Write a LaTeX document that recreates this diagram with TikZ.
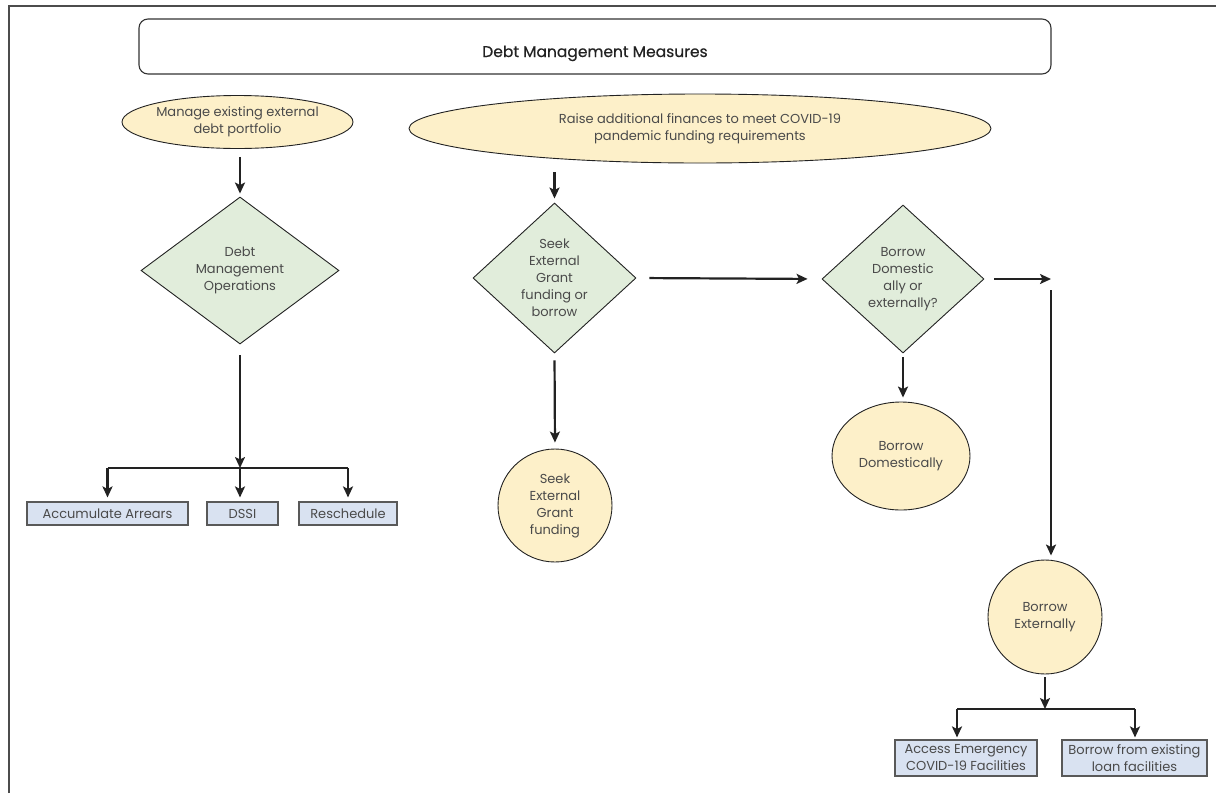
\documentclass[tikz,border=0pt]{standalone}
\usepackage{fontspec}
\setmainfont{Poppins}
\newfontfamily\titlefont[FakeBold=0.5]{Poppins}
\usetikzlibrary{shapes.geometric,arrows.meta}
\definecolor{ylw}{HTML}{FDF0C9}
\definecolor{grn}{HTML}{E1EDDB}
\definecolor{blu}{HTML}{D9E2F1}
\definecolor{ink}{HTML}{222222}
\definecolor{txt}{HTML}{4A4A4A}
\tikzset{
  base/.style={text=txt, font=\fontsize{13}{17}\selectfont, align=center},
  oval/.style={base, ellipse, draw=ink, line width=0.9pt, fill=ylw, inner sep=0pt},
  dia/.style={base, diamond, draw=ink, line width=0.9pt, fill=grn, inner sep=-20pt},
  rbox/.style={base, rectangle, draw=black!65, line width=1.1pt, fill=blu, inner sep=0pt},
  arr/.style={draw=ink, line width=2.2pt, -{Stealth[length=11pt,width=10pt,inset=2.5pt]}},
  ln/.style={draw=ink, line width=2.2pt}
}
\begin{document}
\begin{tikzpicture}[x=1pt,y=-1pt]
\useasboundingbox (0,0) rectangle (1216,793);
\draw[black!70, line width=1.4pt] (9,793) -- (9,6) -- (1216,6);

\node[draw=black!80, line width=1.1pt, rounded corners=9pt, minimum width=912pt, minimum height=55pt, inner sep=0pt, text height=21pt, text depth=0pt, text=ink, font=\titlefont\fontsize{15.5}{18}\selectfont] (title) at (595,46.5) {Debt Management Measures};

\node[oval, minimum width=231pt, minimum height=53pt] (e1) at (237.5,122) {Manage existing external\\debt portfolio};
\node[oval, minimum width=582pt, minimum height=69pt] (e2) at (700,128.5) {Raise additional finances to meet COVID-19\\pandemic funding requirements};

\node[dia, minimum width=198pt, minimum height=147pt] (d1) at (240,270.5) {Debt\\Management\\Operations};
\node[dia, minimum width=163pt, minimum height=150pt] (d2) at (554.5,278) {Seek\\External\\Grant\\funding or\\borrow};
\node[dia, minimum width=162pt, minimum height=148pt] (d3) at (903,279) {Borrow\\Domestic\\ally or\\externally?};

\node[oval, minimum width=114pt, minimum height=113pt] (c1) at (555,505.5) {Seek\\External\\Grant\\funding};
\node[oval, minimum width=138pt, minimum height=108pt] (c2) at (901,456) {Borrow\\Domestically};
\node[oval, minimum width=114pt, minimum height=114pt] (c3) at (1045,617) {Borrow\\Externally};

\node[rbox, minimum width=161pt, minimum height=23pt] (b1) at (107.5,513.5) {Accumulate Arrears};
\node[rbox, minimum width=71pt, minimum height=23pt] (b2) at (242.5,513.5) {DSSI};
\node[rbox, minimum width=98pt, minimum height=23pt] (b3) at (348,513.5) {Reschedule};
\node[rbox, minimum width=142pt, minimum height=36pt] (b4) at (966,758) {Access Emergency\\COVID-19 Facilities};
\node[rbox, minimum width=145pt, minimum height=36pt] (b5) at (1134.5,758) {Borrow from existing\\loan facilities};

% left branch
\draw[arr, shorten <=8pt, shorten >=3pt] (e1.south -| d1.north) -- (d1.north);
\coordinate (j1) at (240,468);
\draw[arr, shorten <=11pt] (d1.south) -- (j1);
\draw[ln] (j1 -| b1.north) -- (j1 -| b3.north);
\draw[arr, shorten >=4pt] (j1 -| b1.north) -- (b1.north);
\draw[arr, shorten >=4pt] (j1) -- (j1 |- b2.north);
\draw[arr, shorten >=4pt] (j1 -| b3.north) -- (b3.north);

% middle branch
\draw[arr, shorten <=9pt, shorten >=4pt] (e2.south -| d2.north) -- (d2.north);
\draw[arr, shorten <=7pt, shorten >=6pt] (d2.south) -- (c1.north);
\draw[arr, shorten <=13pt, shorten >=14pt] (d2.east) -- (d3.west);
\draw[arr, shorten <=4pt, shorten >=4pt] (d3.south) -- (c2.north -| d3.south);

% right branch
\coordinate (j2) at (1051,279);
\draw[arr, shorten <=10pt] (d3.east) -- (j2);
\draw[arr, shorten >=4pt] ([yshift=-11pt]j2) -- (j2 |- c3.north);
\coordinate (j3) at (1045,709);
\coordinate (jl) at (957,709);
\coordinate (jr) at (1135,709);
\draw[arr, shorten <=3pt] (c3.south) -- (j3);
\draw[ln] (jl) -- (jr);
\draw[arr, shorten >=2pt] (jl) -- (jl |- b4.north);
\draw[arr, shorten >=2pt] (jr) -- (jr |- b5.north);
\end{tikzpicture}
\end{document}
